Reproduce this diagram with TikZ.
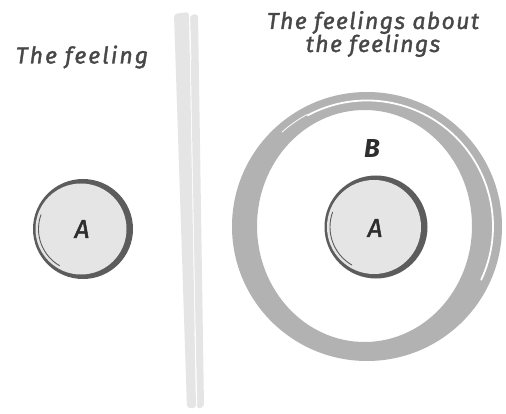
\documentclass[tikz,border=0pt]{standalone}
\usepackage{fontspec}
\setmainfont{Fira Sans}
\begin{document}
\begin{tikzpicture}[x=1pt,y=-1pt,
  hand/.style={font=\itshape\fontsize{23}{23}\selectfont\addfontfeature{LetterSpace=6,FakeBold=1.5}, text=black!72},
  letter/.style={font=\itshape\fontsize{26}{28}\selectfont\addfontfeature{FakeBold=2}, text=black!82},
  ringcol/.style={fill=black!30},
  bordercol/.style={fill=black!64},
  facecol/.style={fill=black!10},
  barcol/.style={fill=black!10}
]
\useasboundingbox (0,0) rectangle (506,414);
\fill[white] (0,0) rectangle (506,414);
% divider: two tapering strips
\fill[barcol, rounded corners=3pt] (174,14) -- (189,12) -- (196,408) -- (187,408) -- cycle;
\fill[barcol, rounded corners=3pt] (190,15) -- (198,14) -- (204,407) -- (197,409) -- cycle;
\draw[white, line width=0.8pt] (189.5,12) -- (191,60);
\draw[white, line width=0.8pt] (195,330) -- (196.8,409);
% titles
\node[hand, font=\itshape\fontsize{23}{23}\selectfont\addfontfeature{LetterSpace=9,FakeBold=1.5}] (t1) at (82,57) {The feeling};
\node[hand, align=center] (t2) at (373,34) {The feelings about\\the feelings};
% big ring (crescent band)
\fill[ringcol, even odd rule] (367,226.5) circle[x radius=135, y radius=134.5] (364.5,226) circle[x radius=107.5, y radius=116];
\draw[white, line width=1.8pt, line cap=round] (367,226.5) ++(-118:126) arc[start angle=-118, end angle=25, radius=126];
\draw[white, line width=0.8pt, line cap=round] (367,226.5) ++(-132:127) arc[start angle=-132, end angle=-118, radius=126.5];
\node[letter, font=\itshape\bfseries\fontsize{26}{28}\selectfont] (b) at (372,148) {B};
% left inner circle
\fill[bordercol] (83,229) circle[radius=50];
\fill[facecol] (81,229) circle[radius=45.5];
\draw[black!64, line width=0.9pt] (81,229) ++(120:42.5) arc[start angle=120, end angle=200, radius=42.5];
\node[letter] (a1) at (82,229) {A};
% right inner circle
\fill[bordercol] (376,227) circle[radius=51.5];
\fill[facecol] (374,227) circle[radius=47];
\draw[black!64, line width=0.9pt] (374,227) ++(120:44) arc[start angle=120, end angle=200, radius=44];
\node[letter] (a2) at (375,228) {A};
\end{tikzpicture}
\end{document}
